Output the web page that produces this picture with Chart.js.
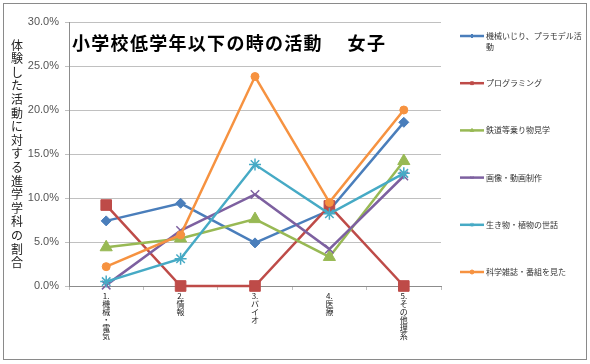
<!DOCTYPE html>
<html>
<head>
<meta charset="utf-8">
<script src="https://cdn.jsdelivr.net/npm/chart.js@4"></script>
<style>
  html, body { margin: 0; padding: 0; background: #fff; }
  #wrap { width: 590px; height: 364px; position: relative; }
</style>
</head>
<body>
<div id="wrap"><canvas id="chart"></canvas></div>
<script>
const categories = ["1.機械・電気", "2.情報", "3.バイオ", "4.医療", "5.その他理系"]
const seriesNames = ["機械いじり、プラモデル活動", "プログラミング", "鉄道等乗り物見学", "画像・動画制作", "生き物・植物の世話", "科学雑誌・番組を見た"]
const kikai   = [7.4, 9.4, 4.9, 8.6, 18.6]
const program = [9.2, 0.0, 0.0, 9.1, 0.0]
const tetsudo = [4.4, 5.4, 7.6, 3.3, 14.2]
const gazou   = [0.1, 6.3, 10.4, 4.2, 12.5]
const ikimono = [0.5, 3.1, 13.8, 8.2, 12.8]
const kagaku  = [2.2, 5.8, 23.8, 9.5, 20.0]
const yTicks = [0, 5, 10, 15, 20, 25, 30]

const titleText = "小学校低学年以下の時の活動　 女子"
const yTitle = "体験した活動に対する進学学科の割合"

const colors = ["#4A7EBB", "#BE4B48", "#98B954", "#7D60A0", "#46AAC5", "#F69240"]
const markers = ["rectRot", "rect", "triangle", "crossRot", "star", "circle"]
const radii = [5, 7.5, 7, 6, 6, 4]
const allValues = [kikai, program, tetsudo, gazou, ikimono, kagaku]

const fontJP = "'Noto Sans CJK JP', 'Liberation Sans', sans-serif"

const datasets = allValues.map((vals, i) => ({
    label: seriesNames[i],
    data: vals,
    borderColor: colors[i],
    backgroundColor: colors[i],
    pointBorderColor: colors[i],
    pointBackgroundColor: colors[i],
    pointStyle: markers[i],
    pointRadius: radii[i],
    pointBorderWidth: markers[i] === "crossRot" || markers[i] === "star" ? 1.5 : 1,
    borderWidth: 2.5,
    tension: 0,
    clip: false,
    order: 5 - i
}))

// frame, title, vertical y title and the legend on the right
const decor = {
    id: "decor",
    beforeDraw(chart) {
        const ctx = chart.ctx
        ctx.save()
        ctx.fillStyle = "#fff"
        ctx.fillRect(0, 0, chart.width, chart.height)
        ctx.strokeStyle = "#8a8a8a"
        ctx.lineWidth = 1
        ctx.strokeRect(3.5, 3.5, 583, 356)
        ctx.restore()
    },
    afterDraw(chart) {
        const ctx = chart.ctx
        ctx.save()
        ctx.fillStyle = "#000"
        ctx.font = "bold 18px " + fontJP
        ctx.letterSpacing = "1.3px"
        ctx.textBaseline = "middle"
        ctx.textAlign = "left"
        ctx.fillText(titleText, 72, 43)
        ctx.letterSpacing = "0px"

        ctx.font = "12px " + fontJP
        ctx.textAlign = "center"
        ctx.fillStyle = "#222"
        Array.from(yTitle).forEach((ch, i) => {
            ctx.fillText(ch, 17, 45 + i * 13.6)
        })

        ctx.font = "8px " + fontJP
        ctx.textAlign = "left"
        chart.data.datasets.forEach((ds, i) => {
            const y = 36 + i * 47.2
            ctx.strokeStyle = ds.borderColor
            ctx.fillStyle = ds.borderColor
            ctx.lineWidth = 2.5
            ctx.beginPath()
            ctx.moveTo(460, y)
            ctx.lineTo(484, y)
            ctx.stroke()
            ctx.lineWidth = 1
            Chart.helpers.drawPoint(ctx, { pointStyle: ds.pointStyle, radius: 2, borderWidth: 1 }, 472, y)
            ctx.fillStyle = "#333"
            let text = ds.label
            if (ctx.measureText(text).width > 98) {
                ctx.fillText(text.slice(0, 12), 486, y)
                ctx.fillText(text.slice(12), 486, y + 11)
            } else {
                ctx.fillText(text, 486, y)
            }
        })
        ctx.restore()
    }
}

// vertical (tategaki) x labels: "1." kept together, then one char per line
function verticalLabel(label) {
    return [label.slice(0, 2)].concat(Array.from(label.slice(2)))
}

new Chart(document.getElementById("chart"), {
    type: "line",
    data: { labels: categories, datasets },
    options: {
        responsive: true,
        maintainAspectRatio: false,
        animation: false,
        layout: { padding: { top: 22, right: 149, left: 0, bottom: 0 } },
        plugins: {
            legend: { display: false },
            title: { display: false },
            tooltip: { enabled: false }
        },
        scales: {
            x: {
                offset: true,
                afterFit: s => { s.height = 78 },
                grid: { drawOnChartArea: false, drawTicks: true, tickLength: 4, color: "#bfbfbf", offset: true },
                border: { color: "#8c8c8c" },
                ticks: {
                    autoSkip: false,
                    maxRotation: 0,
                    minRotation: 0,
                    padding: 2,
                    color: "#222",
                    font: { size: 8, family: fontJP, lineHeight: 1.0 },
                    callback: function (v) { return verticalLabel(this.getLabelForValue(v)) }
                }
            },
            y: {
                min: 0,
                max: 30,
                afterFit: s => { s.width = 69 },
                afterBuildTicks: s => { s.ticks = yTicks.map(v => ({ value: v })) },
                grid: { color: "#c0c0c0", tickLength: 4, lineWidth: 1 },
                border: { color: "#8c8c8c" },
                ticks: {
                    padding: 6,
                    color: "#555",
                    font: { size: 11, family: "'Liberation Sans', sans-serif" },
                    callback: v => v.toFixed(1) + "%"
                }
            }
        }
    },
    plugins: [decor]
})
</script>
</body>
</html>
